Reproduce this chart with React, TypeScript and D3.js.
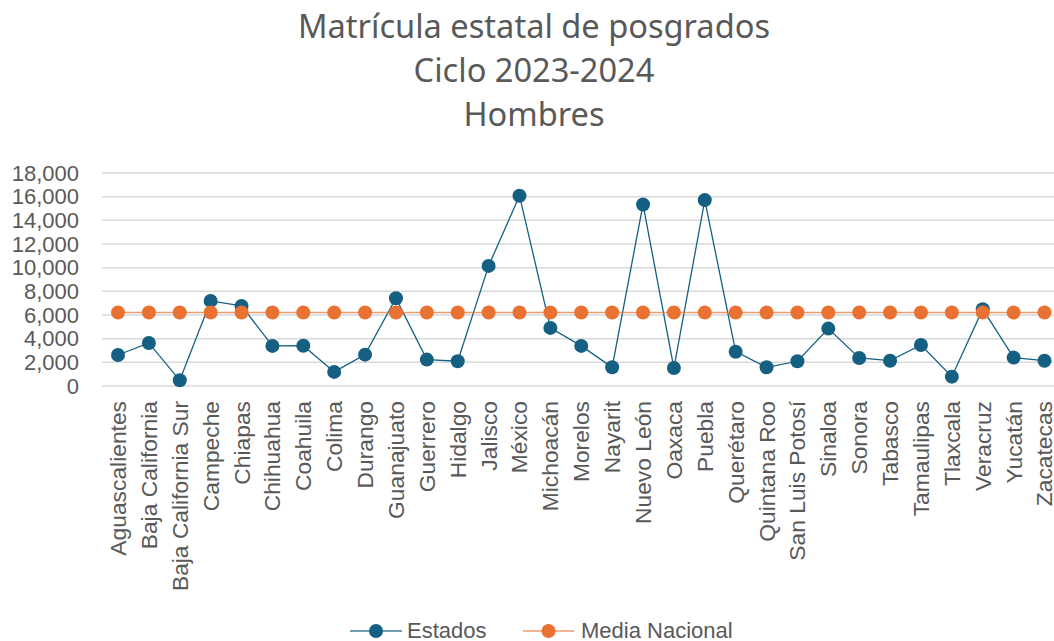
import React from "react";
import * as d3 from "d3";

const categories = [
  "Aguascalientes", "Baja California", "Baja California Sur", "Campeche", "Chiapas",
  "Chihuahua", "Coahuila", "Colima", "Durango", "Guanajuato", "Guerrero", "Hidalgo",
  "Jalisco", "México", "Michoacán", "Morelos", "Nayarit", "Nuevo León", "Oaxaca",
  "Puebla", "Querétaro", "Quintana Roo", "San Luis Potosí", "Sinaloa", "Sonora",
  "Tabasco", "Tamaulipas", "Tlaxcala", "Veracruz", "Yucatán", "Zacatecas",
];

const estados = [
  2620, 3640, 480, 7190, 6770, 3390, 3400, 1190, 2650, 7420, 2230, 2090,
  10150, 16080, 4910, 3390, 1580, 15340, 1520, 15710, 2900, 1580, 2090,
  4850, 2370, 2140, 3470, 790, 6490, 2400, 2140,
];

const mediaNacional = categories.map(() => 6210);

const yTicks = [0, 2000, 4000, 6000, 8000, 10000, 12000, 14000, 16000, 18000];
const titleLines = ["Matrícula estatal de posgrados", "Ciclo 2023-2024", "Hombres"];
const seriesNames = ["Estados", "Media Nacional"];

const W = 1054;
const H = 641;
const BLUE = "#156082";
const ORANGE = "#E97132";
const TEXT = "#595959";
const FONT = "'Liberation Sans', Arial, sans-serif";

export default function App() {
  const x = d3.scalePoint<string>().domain(categories).range([118, 1044.5]);
  const y = d3.scaleLinear().domain([0, 18000]).range([386, 173]);
  const line = d3
    .line<number>()
    .x((_, i) => x(categories[i]) as number)
    .y((d) => y(d));

  const fmt = d3.format(",");

  return (
    <svg
      width={W}
      height={H}
      style={{ position: "absolute", left: 0, top: 0, background: "#fff" }}
    >
      <rect x={0} y={0} width={W} height={H} fill="#fff" />
      {titleLines.map((t, i) => (
        <text
          key={t}
          x={534}
          y={38 + i * 44}
          textAnchor="middle"
          fontFamily="'Noto Sans', 'Open Sans', sans-serif"
          fontSize={32.6}
          fill={TEXT}
        >
          {t}
        </text>
      ))}
      {yTicks.map((t) => (
        <g key={t}>
          <line x1={102} x2={W} y1={y(t)} y2={y(t)} stroke="#d9d9d9" strokeWidth={1.5} />
          <text
            x={79}
            y={y(t)}
            dy="0.35em"
            textAnchor="end"
            fontFamily={FONT}
            fontSize={22}
            fill={TEXT}
          >
            {fmt(t)}
          </text>
        </g>
      ))}
      {categories.map((c) => (
        <text
          key={c}
          transform={`translate(${x(c)},401) rotate(-90)`}
          dy="0.35em"
          textAnchor="end"
          fontFamily={FONT}
          fontSize={22.8}
          fill={TEXT}
        >
          {c}
        </text>
      ))}
      <path d={line(estados) || ""} fill="none" stroke={BLUE} strokeWidth={1.3} />
      {estados.map((v, i) => (
        <circle key={"e" + i} cx={x(categories[i])} cy={y(v)} r={7} fill={BLUE} />
      ))}
      <path d={line(mediaNacional) || ""} fill="none" stroke={ORANGE} strokeOpacity={0.7} strokeWidth={1.5} />
      {mediaNacional.map((v, i) => (
        <circle key={"m" + i} cx={x(categories[i])} cy={y(v)} r={7} fill={ORANGE} />
      ))}
      <g fontFamily={FONT} fontSize={22} fill={TEXT}>
        <line x1={350} x2={402} y1={631} y2={631} stroke={BLUE} strokeWidth={1.3} strokeOpacity={0.8} />
        <circle cx={376} cy={631} r={7} fill={BLUE} />
        <text x={407} y={630} dy="0.35em">{seriesNames[0]}</text>
        <line x1={523} x2={574} y1={631} y2={631} stroke={ORANGE} strokeWidth={1.5} strokeOpacity={0.7} />
        <circle cx={548.5} cy={631} r={7} fill={ORANGE} />
        <text x={581} y={630} dy="0.35em">{seriesNames[1]}</text>
      </g>
    </svg>
  );
}
